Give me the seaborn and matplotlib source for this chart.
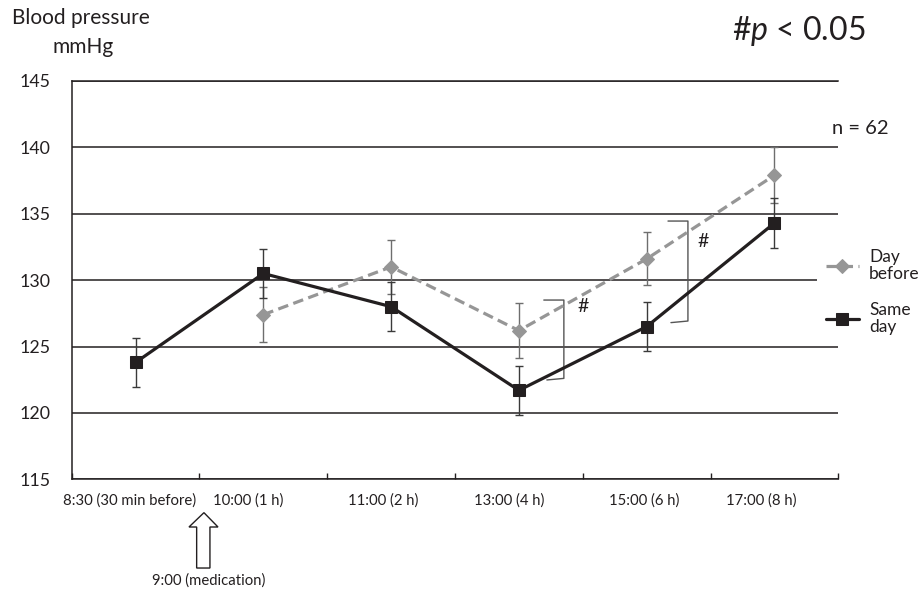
import numpy as np
import pandas as pd
import matplotlib
matplotlib.use("Agg")
import matplotlib.pyplot as plt
import seaborn as sns
from matplotlib.patches import Polygon
from matplotlib.transforms import blended_transform_factory

# Measurement times and mean blood pressure (mmHg) with error bars
time_labels = ["8:30 (30 min before)", "10:00 (1 h)", "11:00 (2 h)",
               "13:00 (4 h)", "15:00 (6 h)", "17:00 (8 h)"]
same_day = [123.8, 130.5, 128.0, 121.7, 126.5, 134.3]
same_day_err = [1.85, 1.85, 1.85, 1.85, 1.85, 1.85]
day_before = [np.nan, 127.4, 131.0, 126.2, 131.6, 137.9]
day_before_err = [np.nan, 2.05, 2.05, 2.05, 2.0, 2.1]
y_ticks = [115, 120, 125, 130, 135, 140, 145]
label_shift = [-0.05, -0.12, -0.06, -0.075, -0.02, -0.105]

sns.set_theme(style="white")
plt.rcParams["font.family"] = ["Lato", "DejaVu Sans"]
plt.rcParams["mathtext.fontset"] = "custom"
plt.rcParams["mathtext.it"] = "Lato:italic"
plt.rcParams["mathtext.rm"] = "Lato"

TXT = "#231f20"
GRAY = "#969696"

fig = plt.figure(figsize=(9.18, 5.92), dpi=100)
ax = fig.add_axes([0.0781, 0.1904, 0.8351, 0.6728])

idx = np.arange(len(time_labels))
df = pd.DataFrame({"pos": idx, "same": same_day, "before": day_before})

sns.lineplot(data=df, x="pos", y="before", ax=ax, color=GRAY, lw=2.3,
             marker="D", markersize=7.5, markeredgecolor=GRAY,
             label="Day\nbefore", zorder=3)
ax.lines[-1].set_dashes((3.3, 1.7))
sns.lineplot(data=df, x="pos", y="same", ax=ax, color="#231f20", lw=2.3,
             marker="s", markersize=9, markeredgecolor="#231f20",
             label="Same\nday", zorder=4)

ax.errorbar(idx, day_before, yerr=day_before_err, fmt="none", ecolor="#6e6e6e",
            elinewidth=1, capsize=3, capthick=1, zorder=2.5)
ax.errorbar(idx, same_day, yerr=same_day_err, fmt="none", ecolor="#3a3a3a",
            elinewidth=1, capsize=3, capthick=1, zorder=2.6)

ax.set_xlim(-0.5, len(time_labels) - 0.5)
ax.set_ylim(115, 145)
ax.set_yticks(y_ticks)
ax.yaxis.grid(True, color="#231f20", lw=1.1)
ax.set_axisbelow(True)
ax.set_xlabel("")
ax.set_ylabel("")

# Boundary ticks between time points, labels under each point
ax.set_xticks(np.arange(len(time_labels) + 1) - 0.5)
ax.set_xticklabels([])
ax.set_xticks(idx + np.array(label_shift), minor=True)
ax.set_xticklabels(time_labels, minor=True)
ax.tick_params(axis="x", which="major", direction="in", length=4, width=1,
               color="#231f20", bottom=True)
ax.tick_params(axis="x", which="minor", length=0, pad=10, labelsize=10.7,
               labelcolor=TXT)
ax.tick_params(axis="y", length=0, pad=15, labelsize=12.8, labelcolor=TXT)

for side in ["left", "bottom", "top"]:
    ax.spines[side].set_visible(True)
    ax.spines[side].set_color("#231f20")
    ax.spines[side].set_linewidth(1.1)
ax.spines["right"].set_visible(False)

# Significance brackets
bk = dict(color="#555555", lw=1, zorder=2)
ax.plot([3.195, 3.352, 3.352, 3.219], [128.5, 128.5, 122.6, 122.48], **bk)
ax.text(3.50, 128.0, "#", fontsize=14, color=TXT, ha="center", va="center")
ax.plot([4.167, 4.323, 4.323, 4.19], [134.45, 134.45, 126.92, 126.8], **bk)
ax.text(4.44, 132.9, "#", fontsize=14, color=TXT, ha="center", va="center")

leg = ax.legend(loc="upper left", bbox_to_anchor=(817 / 918, 1 - 240 / 592),
                bbox_transform=fig.transFigure, borderaxespad=0, frameon=True,
                facecolor="white", edgecolor="none", framealpha=1,
                fontsize=12.5, handlelength=1.9, handletextpad=0.6,
                labelspacing=1.15, borderpad=0.5, fancybox=False)
for t in leg.get_texts():
    t.set_color(TXT)
    t.set_multialignment("left")
    t.set_linespacing(1.1)

# Medication arrow below the axis
tr = blended_transform_factory(ax.transData, fig.transFigure)
arrow = Polygon([(0.535, 0.1340), (0.418, 0.1098), (0.478, 0.1098),
                 (0.478, 0.0405), (0.582, 0.0405), (0.582, 0.1098),
                 (0.645, 0.1098)], closed=True, transform=tr,
                facecolor="white", edgecolor="#231f20", lw=1, clip_on=False)
ax.add_patch(arrow)
ax.text(0.572, 0.019, "9:00 (medication)", transform=tr, ha="center",
        va="center", fontsize=10.7, color=TXT)

fig.text(12 / 918, 1 - 18 / 592, "Blood pressure", fontsize=15,
         color=TXT, va="center", ha="left")
fig.text(53 / 918, 1 - 47 / 592, "mmHg", fontsize=15, color=TXT,
         va="center", ha="left")
fig.text(732 / 918, 1 - 31 / 592, r"#$\it{p}$ < 0.05", fontsize=23,
         color=TXT, va="center", ha="left")
fig.text(832 / 918, 1 - 128 / 592, "n = 62", fontsize=14.5, color=TXT,
         va="center", ha="left")

fig.savefig("out.png", dpi=100, facecolor="white")
